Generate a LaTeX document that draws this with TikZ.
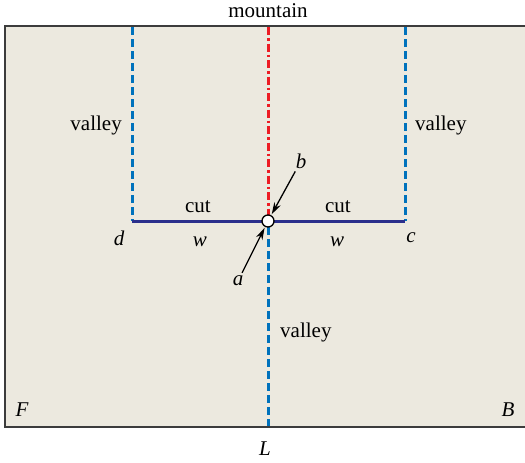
\documentclass[tikz,border=0pt]{standalone}
\usepackage{fontspec}
\setmainfont{Liberation Serif}
\usetikzlibrary{arrows.meta, positioning}
\definecolor{paper}{RGB}{236, 233, 223}
\definecolor{foldred}{RGB}{237, 28, 36}
\definecolor{foldblue}{RGB}{0, 114, 188}
\definecolor{cutblue}{RGB}{43, 47, 140}
\definecolor{edgegray}{RGB}{60, 60, 60}

\begin{document}
\begin{tikzpicture}[x=1pt, y=-1pt, font=\fontsize{21}{24}\selectfont,
    valley/.style={foldblue, line width=3pt, dash pattern=on 8pt off 4pt},
    mountain/.style={foldred, line width=3pt, dash pattern=on 8pt off 3pt on 2.5pt off 3pt},
    cutline/.style={cutblue, line width=3pt},
    pointer/.style={-{Stealth[length=12pt, width=7pt]}, line width=1.3pt},
    lbl/.style={inner sep=2pt}]
    \useasboundingbox (0,0) rectangle (525,463);
    % sheet
    \fill[paper] (5,26) rectangle (532,427);
    \draw[edgegray, line width=2pt] (532,26) -- (5,26) -- (5,427) -- (532,427);
    % corners of the cut
    \coordinate (d) at (132,221);
    \coordinate (c) at (405,221);
    \coordinate (topl) at (132,27);
    \coordinate (topr) at (405,27);
    \coordinate (topm) at (268,27);
    \coordinate (botm) at (268,426);
    % folds
    \draw[valley] (topl) -- (d);
    \draw[valley] (topr) -- (c);
    \draw[mountain] (topm) -- (268,215);
    \draw[valley] (268,227) -- (botm);
    \draw[cutline] (d) -- (c);
    \node[circle, draw, fill=white, line width=1.3pt, inner sep=0pt, minimum size=12pt] (hole) at (268,221) {};
    % labels
    \node[lbl] (mtn) at (268,11) {mountain};
    \node[lbl, anchor=east] (vall) at (124,125) {valley};
    \node[lbl, anchor=west] (valr) at (413,125) {valley};
    \node[lbl, anchor=west] (valb) at (278,332) {valley};
    \node[lbl] (cutl) at (198,207) {cut};
    \node[lbl] (cutr) at (338,207) {cut};
    \node[lbl] (wl) at (200,242) {\itshape w};
    \node[lbl] (wr) at (337,242) {\itshape w};
    \node[lbl] (dl) at (119,238) {\itshape d};
    \node[lbl] (cl) at (411,238) {\itshape c};
    \node[lbl] (bl) at (301,161) {\itshape b};
    \node[lbl] (al) at (238,281) {\itshape a};
    \node[lbl] (fl) at (22,410) {\itshape F};
    \node[lbl] (bk) at (508,410) {\itshape B};
    \node[lbl] (ll) at (265,449) {\itshape L};
    % pointers to the hole
    \draw[pointer, shorten <=1pt, shorten >=1pt] (bl) -- (hole);
    \draw[pointer, shorten <=1pt, shorten >=1pt] (al) -- (hole);
\end{tikzpicture}
\end{document}
